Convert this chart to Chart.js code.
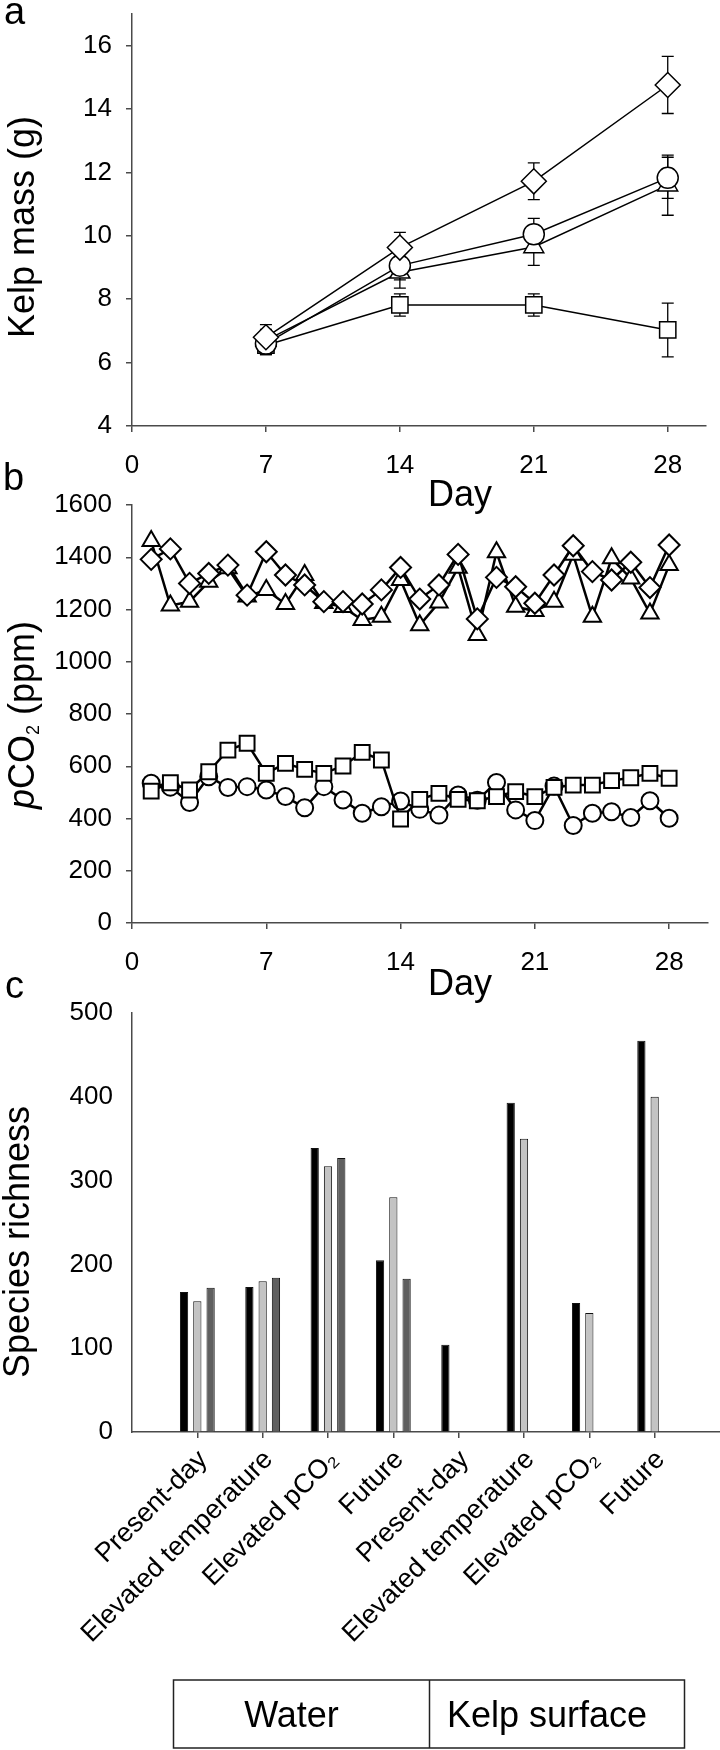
<!DOCTYPE html>
<html>
<head>
<meta charset="utf-8">
<script src="https://cdn.jsdelivr.net/npm/chart.js@4.4.1/dist/chart.umd.min.js"></script>
<style>
  html, body { margin: 0; padding: 0; background: #fff; }
  body { width: 720px; height: 1750px; position: relative; overflow: hidden; }
  canvas { position: absolute; left: 0; }
  #chartA { top: 0; }
  #chartB { top: 450px; }
  #chartC { top: 960px; }
</style>
</head>
<body>
<canvas id="chartA" width="720" height="520"></canvas>
<canvas id="chartB" width="720" height="560"></canvas>
<canvas id="chartC" width="720" height="790"></canvas>

<script>
// ---- a: kelp mass (g) by day, mean and error
const massDays = [7, 14, 21, 28];
const massDiamond = [6.8, 9.63, 11.72, 14.76];
const massDiamondErr = [0.4, 0.48, 0.58, 0.9];
const massCircle = [6.6, 9.06, 10.05, 11.83];
const massCircleErr = [0.35, 0.45, 0.5, 0.65];
const massTriangle = [6.7, 8.85, 9.65, 11.6];
const massTriangleErr = [0.35, 0.5, 0.58, 0.95];
const massSquare = [6.55, 7.82, 7.82, 7.03];
const massSquareErr = [0.3, 0.35, 0.35, 0.85];

// ---- b: daily pCO2 (ppm)
const co2Days = [1, 2, 3, 4, 5, 6, 7, 8, 9, 10, 11, 12, 13, 14, 15, 16, 17, 18, 19, 20, 21, 22, 23, 24, 25, 26, 27, 28];
const co2Diamond = [1392, 1432, 1300, 1338, 1370, 1255, 1421, 1332, 1294, 1230, 1230, 1221, 1275, 1361,
                    1240, 1294, 1411, 1164, 1323, 1287, 1224, 1332, 1444, 1345, 1313, 1381, 1284, 1447];
const co2Triangle = [1462, 1215, 1230, 1306, 1358, 1250, 1275, 1221, 1332, 1225, 1210, 1160, 1172, 1313,
                     1140, 1227, 1360, 1102, 1419, 1211, 1194, 1230, 1410, 1172, 1396, 1319, 1185, 1370];
const co2Square = [505, 537, 509, 579, 662, 688, 573, 611, 588, 573, 601, 653, 624, 398,
                   473, 496, 473, 468, 484, 503, 484, 519, 528, 528, 545, 556, 573, 554];
const co2Circle = [535, 520, 461, 560, 519, 522, 509, 484, 441, 522, 471, 420, 445, 467,
                   435, 413, 490, 470, 538, 433, 392, 524, 373, 420, 426, 404, 468, 401];
const dayTicks = [0, 7, 14, 21, 28];

// ---- c: species richness
const groups = ['Present-day', 'Elevated temperature', 'Elevated pCO\u2082', 'Future',
                'Present-day', 'Elevated temperature', 'Elevated pCO\u2082', 'Future'];
const richBlack = [167, 173, 339, 205, 104, 393, 154, 467];
const richLight = [156, 180, 317, 280, null, 350, 142, 400];
const richDark = [172, 184, 327, 183, null, null, null, null];

const FONT = "'Liberation Sans', Arial, sans-serif";
Chart.defaults.font.family = FONT;
Chart.defaults.color = '#000';

const AXIS = '#4a4a4a';

function pts(xs, ys) {
    return xs.map((x, i) => ({ x: x, y: ys[i] }));
}

function drawRich(ctx, parts, cx, cy, size, rotate) {
    const fonts = parts.map(p => (p.italic ? 'italic ' : '') + Math.round(p.sub ? size * 0.5 : size) + 'px ' + FONT);
    let total = 0;
    const widths = parts.map((p, i) => {
        ctx.font = fonts[i];
        const w = ctx.measureText(p.t).width;
        total += w;
        return w;
    });
    ctx.save();
    ctx.translate(cx, cy);
    if (rotate) ctx.rotate(-Math.PI / 2);
    ctx.textBaseline = 'middle';
    ctx.textAlign = 'left';
    let x = -total / 2;
    parts.forEach((p, i) => {
        ctx.font = fonts[i];
        ctx.fillText(p.t, x, p.sub ? size * 0.28 : 0);
        x += widths[i];
    });
    ctx.restore();
}

// letters, axis titles, group box
function decor(cfg) {
    return {
        id: 'decor',
        afterDraw(chart) {
            const ctx = chart.ctx;
            ctx.save();
            ctx.fillStyle = '#000';
            if (cfg.letter) {
                ctx.font = '38px ' + FONT;
                ctx.textAlign = 'left';
                ctx.textBaseline = 'alphabetic';
                ctx.fillText(cfg.letter[0], cfg.letter[1], cfg.letter[2]);
            }
            if (cfg.xTitle) {
                ctx.font = '36px ' + FONT;
                ctx.textAlign = 'center';
                ctx.textBaseline = 'alphabetic';
                ctx.fillText(cfg.xTitle[0], cfg.xTitle[1], cfg.xTitle[2]);
            }
            if (cfg.yTitle) {
                drawRich(ctx, cfg.yTitle.parts, cfg.yTitle.x, cfg.yTitle.y, 36, true);
            }
            if (cfg.box) {
                const xs = chart.scales.x;
                const b = cfg.box;
                const l = Math.round(xs.getPixelForValue(b.edges[0])) + 0.5;
                const m = Math.round(xs.getPixelForValue(b.edges[1])) + 0.5;
                const r = Math.round(xs.getPixelForValue(b.edges[2])) + 0.5;
                ctx.strokeStyle = '#222';
                ctx.lineWidth = 1.5;
                ctx.strokeRect(l, b.top, r - l, b.bottom - b.top);
                ctx.beginPath();
                ctx.moveTo(m, b.top);
                ctx.lineTo(m, b.bottom);
                ctx.stroke();
                ctx.font = '36px ' + FONT;
                ctx.textAlign = 'center';
                ctx.textBaseline = 'alphabetic';
                ctx.fillText(b.labels[0], (l + m) / 2 - 10, b.base);
                ctx.fillText(b.labels[1], (m + r) / 2 - 10, b.base);
            }
            ctx.restore();
        }
    };
}

// vertical error bars under the markers
const errorBars = {
    id: 'errorBars',
    beforeDatasetsDraw(chart) {
        const ctx = chart.ctx;
        const yS = chart.scales.y;
        ctx.save();
        ctx.strokeStyle = '#000';
        ctx.lineWidth = 1.3;
        chart.data.datasets.forEach((ds, i) => {
            if (!ds.errors) return;
            const meta = chart.getDatasetMeta(i);
            ds.data.forEach((p, j) => {
                const x = meta.data[j].x;
                const t = yS.getPixelForValue(p.y + ds.errors[j]);
                const b = yS.getPixelForValue(p.y - ds.errors[j]);
                ctx.beginPath();
                ctx.moveTo(x, t); ctx.lineTo(x, b);
                ctx.moveTo(x - 6, t); ctx.lineTo(x + 6, t);
                ctx.moveTo(x - 6, b); ctx.lineTo(x + 6, b);
                ctx.stroke();
            });
        });
        ctx.restore();
    }
};

function lineSet(data, style, radius, lw, errors) {
    return {
        data: data,
        errors: errors,
        borderColor: '#000',
        borderWidth: lw,
        backgroundColor: '#fff',
        pointStyle: style,
        pointRadius: radius,
        pointBackgroundColor: '#fff',
        pointBorderColor: '#000',
        pointBorderWidth: lw === 1.5 ? 1.5 : 2,
        tension: 0,
        clip: false
    };
}

function dayAxis(height) {
    return {
        type: 'linear', min: 0, max: 30,
        border: { display: true, color: AXIS, width: 1.5 },
        grid: { display: true, drawOnChartArea: false, drawTicks: true, tickLength: 6, color: AXIS, lineWidth: 1.5 },
        ticks: { stepSize: 7, font: { size: 26 }, padding: 18, maxRotation: 0 },
        afterBuildTicks: s => { s.ticks = dayTicks.map(v => ({ value: v })); },
        afterFit: s => { s.height = height; s.paddingLeft = 0; s.paddingRight = 0; }
    };
}

function valueAxis(min, max, step, lastTick, extra) {
    return Object.assign({
        type: 'linear', min: min, max: max,
        border: { display: true, color: AXIS, width: 1.5 },
        grid: { display: true, drawOnChartArea: false, drawTicks: true, tickLength: 6, color: AXIS, lineWidth: 1.5 },
        ticks: { stepSize: step, font: { size: 26 }, padding: 14, callback: v => String(v) },
        afterBuildTicks: s => { s.ticks = s.ticks.filter(t => t.value <= lastTick); },
        afterFit: s => { s.width = 132; s.paddingTop = 0; s.paddingBottom = 0; }
    }, extra || {});
}

const common = {
    responsive: false,
    animation: false,
    devicePixelRatio: 1,
    events: [],
};

// ---- chart a
new Chart(document.getElementById('chartA'), {
    type: 'line',
    data: {
        datasets: [
            lineSet(pts(massDays, massDiamond), 'rectRot', 12.5, 1.5, massDiamondErr),
            lineSet(pts(massDays, massCircle), 'circle', 10.5, 1.5, massCircleErr),
            lineSet(pts(massDays, massTriangle), 'triangle', 11.5, 1.5, massTriangleErr),
            lineSet(pts(massDays, massSquare), 'rect', 11.5, 1.5, massSquareErr)
        ]
    },
    options: Object.assign({}, common, {
        layout: { padding: { top: 12, right: 5, left: 0, bottom: 0 } },
        plugins: { legend: { display: false }, tooltip: { enabled: false } },
        scales: {
            x: dayAxis(94),
            y: valueAxis(4, 17, 2, 16)
        }
    }),
    plugins: [errorBars, decor({
        letter: ['a', 4, 24],
        xTitle: ['Day', 460, 506],
        yTitle: { parts: [{ t: 'Kelp mass (g)' }], x: 24, y: 227 }
    })]
});

// ---- chart b
new Chart(document.getElementById('chartB'), {
    type: 'line',
    data: {
        datasets: [
            lineSet(pts(co2Days, co2Diamond), 'rectRot', 10.5, 2.5),
            lineSet(pts(co2Days, co2Triangle), 'triangle', 10, 2.5),
            lineSet(pts(co2Days, co2Square), 'rect', 10.5, 2.5),
            lineSet(pts(co2Days, co2Circle), 'circle', 8.5, 2.5)
        ]
    },
    options: Object.assign({}, common, {
        layout: { padding: { top: 55, right: 2, left: 0, bottom: 0 } },
        plugins: { legend: { display: false }, tooltip: { enabled: false } },
        scales: {
            x: dayAxis(87),
            y: valueAxis(0, 1600, 200, 1600)
        }
    }),
    plugins: [decor({
        letter: ['b', 3, 40],
        xTitle: ['Day', 460, 545],
        yTitle: {
            parts: [{ t: 'p', italic: true }, { t: 'CO' }, { t: '2', sub: true }, { t: ' (ppm)' }],
            x: 24, y: 265
        }
    })]
});

// ---- chart c
function barSet(values, fill) {
    return {
        data: values.map((v, i) => ({ x: i + 1, y: v })),
        backgroundColor: fill,
        borderColor: '#111',
        borderWidth: 1
    };
}

new Chart(document.getElementById('chartC'), {
    type: 'bar',
    data: {
        datasets: [
            barSet(richBlack, '#000'),
            barSet(richLight, '#c3c3c3'),
            barSet(richDark, '#5f5f5f')
        ]
    },
    options: Object.assign({}, common, {
        layout: { padding: { top: 53, right: 0, left: 0, bottom: 0 } },
        datasets: { bar: { barPercentage: 0.62, categoryPercentage: 0.61 } },
        plugins: { legend: { display: false }, tooltip: { enabled: false } },
        scales: {
            x: {
                type: 'linear', min: 0, max: 9, offset: false,
                border: { display: true, color: AXIS, width: 1.5 },
                grid: { display: true, offset: false, drawOnChartArea: false, drawTicks: true, tickLength: 6, color: AXIS, lineWidth: 1.5 },
                ticks: {
                    stepSize: 1, autoSkip: false, minRotation: 45, maxRotation: 45,
                    font: { size: 27 }, padding: 6, labelOffset: 6,
                    callback: v => groups[v - 1] || ''
                },
                afterBuildTicks: s => { s.ticks = groups.map((g, i) => ({ value: i + 1 })); },
                afterFit: s => { s.height = 318; s.paddingLeft = 0; s.paddingRight = 0; }
            },
            y: valueAxis(0, 500, 100, 500, {
                grid: { display: true, drawOnChartArea: false, drawTicks: false, color: AXIS },
                ticks: { stepSize: 100, font: { size: 26 }, padding: 19 }
            })
        }
    }),
    plugins: [decor({
        letter: ['c', 5, 38],
        yTitle: { parts: [{ t: 'Species richness' }], x: 19, y: 282 },
        box: { edges: [0.62, 4.55, 8.45], top: 720, bottom: 788, base: 767, labels: ['Water', 'Kelp surface'] }
    })]
});
</script>
</body>
</html>
